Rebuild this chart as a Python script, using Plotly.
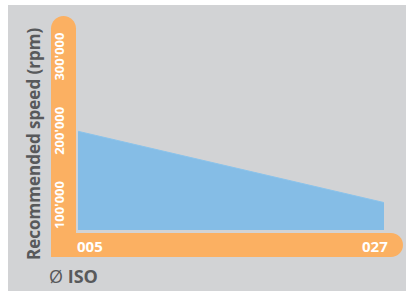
import plotly.graph_objects as go

# ---- data ----
iso_sizes = [5, 27]
iso_labels = ["005", "027"]
speed_rpm = [202000, 106000]
y_tick_vals = [100000, 200000, 300000]
y_tick_text = ["100'000", "200'000", "300'000"]

W, H = 406, 291
L, R, T, B = 78, 22, 16, 61
PW, PH = W - L - R, H - T - B

ORANGE = "#FBB062"
BLUE = "#85BDE6"
GREY = "#D2D3D5"
TEXT = "#58595B"
FONT = "Open Sans"


def px(x):
    return (x - L) / PW


def py(y):
    return (H - B - y) / PH


def path(cmds):
    out = []
    for c in cmds:
        if isinstance(c, str):
            out.append(c)
        else:
            out.append(f"{px(c[0]):.5f},{py(c[1]):.5f}")
    return " ".join(out)


k = 0.5523
# vertical orange bar with rounded top
r1 = 12.5
cx1, cy1 = 63.5, 28.5
vbar = path(["M", (51, 257), "L", (51, cy1),
             "C", (51, cy1 - k * r1), (cx1 - k * r1, cy1 - r1), (cx1, cy1 - r1),
             "C", (cx1 + k * r1, cy1 - r1), (76, cy1 - k * r1), (76, cy1),
             "L", (76, 257), "Z"])
# horizontal orange bar with rounded right end
r2 = 12
cx2, cy2 = 391, 245
hbar = path(["M", (51, 233), "L", (cx2, 233),
             "C", (cx2 + k * r2, 233), (cx2 + r2, cy2 - k * r2), (cx2 + r2, cy2),
             "C", (cx2 + r2, cy2 + k * r2), (cx2 + k * r2, 257), (cx2, 257),
             "L", (51, 257), "Z"])

fig = go.Figure()
fig.add_trace(go.Scatter(
    x=iso_sizes, y=speed_rpm, mode="lines", fill="tozeroy",
    fillcolor=BLUE, line=dict(color="#8CC3EA", width=1),
    hoverinfo="skip", showlegend=False,
))

shapes = [
    dict(type="rect", xref="paper", yref="paper", x0=px(8), x1=px(W + 2),
         y0=py(5), y1=py(H + 2), fillcolor=GREY, line=dict(width=0), layer="below"),
    dict(type="path", xref="paper", yref="paper", path=vbar,
         fillcolor=ORANGE, line=dict(width=0), layer="below"),
    dict(type="path", xref="paper", yref="paper", path=hbar,
         fillcolor=ORANGE, line=dict(width=0), layer="below"),
]

annotations = [
    dict(x=iso_sizes[0], y=py(245.5), xref="x", yref="paper", text=f"<b>{iso_labels[0]}</b>",
         showarrow=False, xanchor="left", yanchor="middle", xshift=-3,
         font=dict(family=FONT, size=15, color="white")),
    dict(x=iso_sizes[1], y=py(245.5), xref="x", yref="paper", text=f"<b>{iso_labels[1]}</b>",
         showarrow=False, xanchor="right", yanchor="middle", xshift=6,
         font=dict(family=FONT, size=15, color="white")),
    dict(x=px(33.5), y=py(143.5), xref="paper", yref="paper",
         text="<b>Recommended speed (rpm)</b>", textangle=-90, showarrow=False,
         xanchor="center", yanchor="middle",
         font=dict(family=FONT, size=17, color=TEXT)),
    dict(x=px(47), y=py(275.5), xref="paper", yref="paper",
         text="Ø <b>ISO</b>", showarrow=False, xanchor="left", yanchor="middle",
         font=dict(family=FONT, size=18, color=TEXT)),
]

fig.update_layout(
    width=W, height=H,
    margin=dict(l=L, r=R, t=T, b=B, pad=0),
    paper_bgcolor="white", plot_bgcolor="rgba(0,0,0,0)",
    shapes=shapes, annotations=annotations, showlegend=False,
    xaxis=dict(range=[5, 27], showgrid=False, zeroline=False, showline=False,
               showticklabels=False, ticks=""),
    yaxis=dict(range=[69024, 357239], showgrid=False, zeroline=False, showline=False,
               tickvals=y_tick_vals, ticktext=[f"<b>{t}</b>" for t in y_tick_text],
               tickangle=-90,
               ticks="outside", ticklen=8, tickcolor="rgba(0,0,0,0)",
               tickfont=dict(family=FONT, size=13, color="white")),
)

fig.write_html("out.html", config={"displayModeBar": False},
               post_script="document.body.style.margin='0px';document.body.style.padding='0px';")
